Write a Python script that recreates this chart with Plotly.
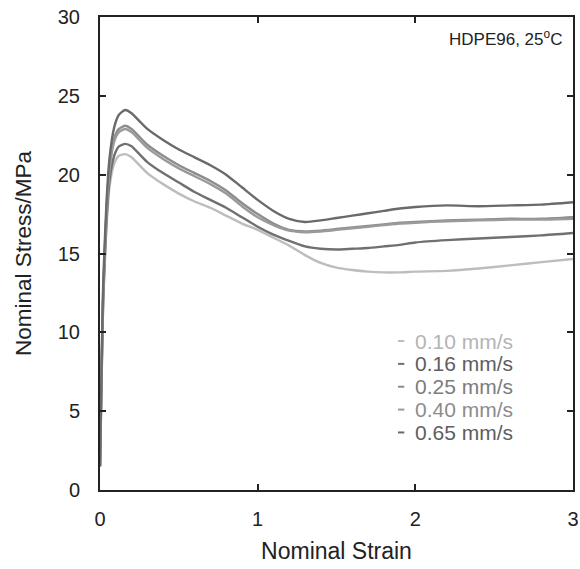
import plotly.graph_objects as go

strain = [0, 0.01, 0.02, 0.04, 0.06, 0.09, 0.12, 0.16, 0.2, 0.25, 0.3, 0.4, 0.5, 0.6, 0.7,
          0.8, 0.9, 1.0, 1.1, 1.2, 1.3, 1.4, 1.5, 1.6, 1.7, 1.8, 1.9, 2.0, 2.2, 2.4, 2.6, 2.8, 3.0]

stress_010 = [1.5, 7, 11.8, 16.5, 19.2, 20.7, 21.2, 21.3, 21.1, 20.6, 20.1, 19.4, 18.8, 18.3, 17.9,
              17.4, 16.9, 16.5, 16.0, 15.5, 14.9, 14.4, 14.1, 13.95, 13.85, 13.8, 13.8, 13.85, 13.9,
              14.05, 14.25, 14.45, 14.65]
stress_016 = [1.5, 7, 12, 16.8, 19.6, 21.2, 21.8, 21.95, 21.8, 21.3, 20.8, 20.1, 19.5, 18.9, 18.4,
              17.9, 17.3, 16.7, 16.2, 15.8, 15.45, 15.3, 15.25, 15.3, 15.35, 15.45, 15.55, 15.7, 15.85,
              15.95, 16.05, 16.15, 16.3]
stress_025 = [1.5, 7.5, 12.5, 17.5, 20.5, 22.3, 22.9, 23.1, 22.9, 22.4, 21.9, 21.2, 20.6, 20.1, 19.6,
              19.0, 18.2, 17.5, 16.9, 16.5, 16.4, 16.45, 16.55, 16.65, 16.75, 16.85, 16.95, 17.0, 17.1,
              17.15, 17.2, 17.2, 17.3]
stress_040 = [1.5, 7.5, 12.3, 17.3, 20.3, 22.1, 22.7, 22.9, 22.7, 22.2, 21.7, 21.0, 20.4, 19.9, 19.4,
              18.8, 18.0, 17.3, 16.8, 16.45, 16.35, 16.4, 16.5, 16.6, 16.7, 16.8, 16.9, 16.95, 17.05,
              17.1, 17.15, 17.15, 17.2]
stress_065 = [1.5, 8, 13, 18, 21, 23, 23.8, 24.1, 23.9, 23.4, 22.9, 22.2, 21.6, 21.1, 20.6,
              20.0, 19.2, 18.4, 17.7, 17.2, 17.0, 17.1, 17.25, 17.4, 17.55, 17.7, 17.85, 17.95, 18.05,
              18.0, 18.05, 18.1, 18.25]

labels = ["0.10 mm/s", "0.16 mm/s", "0.25 mm/s", "0.40 mm/s", "0.65 mm/s"]
series = [stress_010, stress_016, stress_025, stress_040, stress_065]
line_colors = ["#bdbdbd", "#707070", "#8c8c8c", "#9a9a9a", "#6a6a6a"]
text_colors = ["#b4b4b4", "#5e5e5e", "#7c7c7c", "#8c8c8c", "#5e5e5e"]

x_ticks = [0, 1, 2, 3]
y_ticks = [0, 5, 10, 15, 20, 25, 30]

FONT = "Liberation Sans, Arial, sans-serif"

fig = go.Figure()
for lab, ys, c in zip(labels, series, line_colors):
    fig.add_trace(go.Scatter(x=strain, y=ys, mode="lines", name=lab,
                             line=dict(color=c, width=2.4, shape="spline", smoothing=0.6),
                             showlegend=False))

# legend as annotations
leg_x = 1.985
leg_y0 = 9.45
leg_dy = 1.45
for i, (lab, c, tc) in enumerate(zip(labels, line_colors, text_colors)):
    yy = leg_y0 - i * leg_dy
    fig.add_shape(type="line", x0=1.89, x1=1.93, y0=yy, y1=yy, xref="x", yref="y",
                  line=dict(color=c, width=2))
    fig.add_annotation(x=leg_x, y=yy, xref="x", yref="y", text=lab, showarrow=False,
                       xanchor="left", yanchor="middle",
                       font=dict(family=FONT, size=21, color=tc))

fig.add_annotation(x=0.98, y=0.955, xref="paper", yref="paper",
                   text="HDPE96, 25<sup>o</sup>C", showarrow=False,
                   xanchor="right", yanchor="middle",
                   font=dict(family=FONT, size=17, color="#222222"))

axis_common = dict(showline=True, linecolor="#222222", linewidth=2, mirror="allticks",
                   ticks="inside", ticklen=6, tickwidth=2, tickcolor="#222222",
                   showgrid=False, zeroline=False, automargin=False,
                   tickfont=dict(family=FONT, size=20, color="#222222"))

fig.update_xaxes(range=[0, 3], tickvals=x_ticks, ticktext=[str(v) for v in x_ticks],
                 ticklabelstandoff=10,
                 title=dict(text="Nominal Strain", font=dict(family=FONT, size=23, color="#222222"),
                            standoff=14),
                 **axis_common)
fig.update_yaxes(range=[0, 30], tickvals=y_ticks, ticktext=[str(v) for v in y_ticks],
                 ticklabelstandoff=14,
                 title=dict(text="Nominal Stress/MPa", font=dict(family=FONT, size=22.5, color="#222222"),
                            standoff=20),
                 **axis_common)

fig.update_layout(width=580, height=569, margin=dict(l=100, r=7, t=17, b=79),
                  plot_bgcolor="white", paper_bgcolor="white", showlegend=False)

fig.write_html("out.html", config={"displayModeBar": False},
               post_script="document.body.style.margin='0';document.body.style.overflow='hidden';")
